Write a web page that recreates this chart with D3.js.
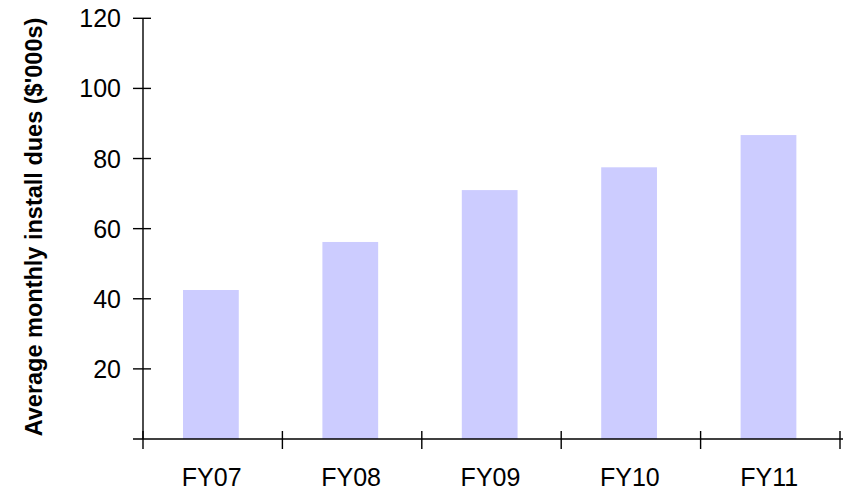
<!DOCTYPE html>
<html>
<head>
<meta charset="utf-8">
<script src="https://cdn.jsdelivr.net/npm/d3@7"></script>
<style>
  html, body { margin: 0; padding: 0; background: #fff; }
  svg { display: block; font-family: "Liberation Sans", Arial, sans-serif; }
</style>
</head>
<body>
<svg id="chart" width="845" height="494"></svg>
<script>
// Fiscal years and average monthly install dues ($'000s)
const categories = ["FY07", "FY08", "FY09", "FY10", "FY11"];
const dues = [42.5, 56.2, 71.0, 77.5, 86.7];
const yTicks = [20, 40, 60, 80, 100, 120];
const yTitle = "Average monthly install dues ($'000s)";

const svg = d3.select("#chart");
const plotLeft = 143, plotRight = 840, plotTop = 18.3, plotBottom = 439;

const x = d3.scaleBand().domain(categories).range([plotLeft, plotRight]).padding(0);
const y = d3.scaleLinear().domain([0, 120]).range([plotBottom, plotTop]);
const bw = x.bandwidth();

// bars
svg.append("g").selectAll("rect")
  .data(categories.map((c, i) => ({ c, v: dues[i] })))
  .join("rect")
  .attr("x", d => x(d.c) + bw * 0.287)
  .attr("width", bw * 0.4)
  .attr("y", d => y(d.v))
  .attr("height", d => y(0) - y(d.v))
  .attr("fill", "#ccccff");

// y axis: vertical line with crossing ticks
const gy = svg.append("g").attr("stroke", "#000").attr("stroke-width", 1.4);
gy.append("line").attr("x1", plotLeft).attr("x2", plotLeft).attr("y1", plotTop).attr("y2", plotBottom);
gy.selectAll("line.t").data(yTicks).join("line").attr("class", "t")
  .attr("x1", plotLeft - 10).attr("x2", plotLeft + 8)
  .attr("y1", d => y(d)).attr("y2", d => y(d));

svg.append("g").selectAll("text").data(yTicks).join("text")
  .attr("x", plotLeft - 22).attr("y", d => y(d))
  .attr("dy", "0.36em")
  .attr("text-anchor", "end")
  .attr("font-size", 25)
  .text(d => d);

// x axis: horizontal line with crossing ticks at band edges
const edges = categories.map(c => x(c)).concat([plotRight]);
const gx = svg.append("g").attr("stroke", "#000").attr("stroke-width", 1.4);
gx.append("line").attr("x1", plotLeft - 10).attr("x2", plotRight + 3).attr("y1", plotBottom).attr("y2", plotBottom);
gx.selectAll("line.t").data(edges).join("line").attr("class", "t")
  .attr("x1", d => d).attr("x2", d => d)
  .attr("y1", plotBottom - 8).attr("y2", plotBottom + 10);

svg.append("g").selectAll("text").data(categories).join("text")
  .attr("x", d => x(d) + bw / 2 - 1)
  .attr("y", 486)
  .attr("text-anchor", "middle")
  .attr("font-size", 25)
  .text(d => d);

// y axis title
svg.append("text")
  .attr("transform", "translate(42, 227) rotate(-90)")
  .attr("text-anchor", "middle")
  .attr("font-size", 23.5)
  .attr("font-weight", "bold")
  .text(yTitle);
</script>
</body>
</html>
